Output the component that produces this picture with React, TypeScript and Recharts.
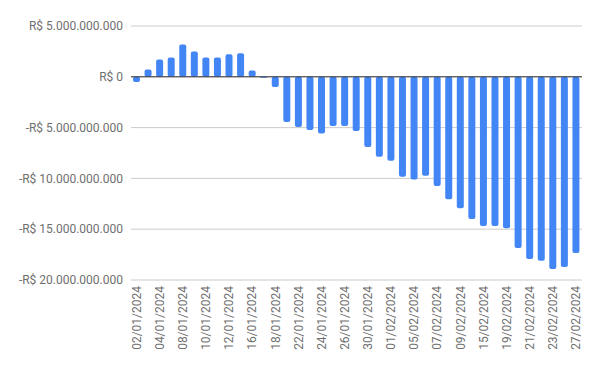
import { BarChart, Bar, XAxis, YAxis, CartesianGrid, ReferenceLine } from 'recharts'

const dates = [
  '02/01/2024', '03/01/2024', '04/01/2024', '05/01/2024', '08/01/2024', '09/01/2024',
  '10/01/2024', '11/01/2024', '12/01/2024', '15/01/2024', '16/01/2024', '17/01/2024',
  '18/01/2024', '19/01/2024', '22/01/2024', '23/01/2024', '24/01/2024', '25/01/2024',
  '26/01/2024', '29/01/2024', '30/01/2024', '31/01/2024', '01/02/2024', '02/02/2024',
  '05/02/2024', '06/02/2024', '07/02/2024', '08/02/2024', '09/02/2024', '14/02/2024',
  '15/02/2024', '16/02/2024', '19/02/2024', '20/02/2024', '21/02/2024', '22/02/2024',
  '23/02/2024', '26/02/2024', '27/02/2024',
]

// saldo em bilhões de R$
const saldo = [
  -0.5, 0.72, 1.7, 1.9, 3.17, 2.48,
  1.9, 1.9, 2.22, 2.32, 0.62, -0.1,
  -1.0, -4.45, -4.93, -5.23, -5.59, -4.84,
  -4.84, -5.33, -6.9, -7.88, -8.27, -9.84,
  -10.1, -9.74, -10.75, -12.06, -12.94, -14.0,
  -14.68, -14.68, -14.9, -16.86, -17.94, -18.1,
  -18.92, -18.73, -17.35,
]

const yTicks = [5e9, 0, -5e9, -10e9, -15e9, -20e9]

const data = dates.map((d, i) => ({ date: d, value: saldo[i] * 1e9 }))

const fmtBRL = (v: number) => {
  const abs = Math.abs(v).toFixed(0).replace(/\B(?=(\d{3})+(?!\d))/g, '.')
  return (v < 0 ? '-' : '') + 'R$ ' + abs
}

const DateTick = ({ x, y, payload }: any) => (
  <text
    x={x}
    y={y}
    transform={`rotate(-90 ${x} ${y})`}
    textAnchor="end"
    dominantBaseline="central"
    fontSize={12}
    fill="#6f6f6f"
  >
    {payload.value}
  </text>
)

export default function App() {
  return (
    <div style={{ fontFamily: 'Roboto, sans-serif' }}>
      <style>{`body{margin:0}`}</style>
      <BarChart
        width={600}
        height={371}
        data={data}
        margin={{ top: 26, right: 18, left: 0, bottom: 0 }}
      >
        <CartesianGrid vertical={false} stroke="#cccccc" />
        <XAxis
          dataKey="date"
          interval={1}
          tickLine={false}
          axisLine={false}
          tickSize={4}
          tickMargin={2}
          height={91}
          tick={<DateTick />}
        />
        <YAxis
          domain={[-20e9, 5e9]}
          ticks={yTicks}
          width={131}
          tickLine={false}
          axisLine={false}
          tick={{ fontSize: 12, fill: '#6f6f6f' }}
          tickFormatter={fmtBRL}
        />
        <ReferenceLine y={0} stroke="#333333" strokeWidth={1} />
        <Bar dataKey="value" fill="#4285f4" barSize={7} radius={2} isAnimationActive={false} />
      </BarChart>
    </div>
  )
}
